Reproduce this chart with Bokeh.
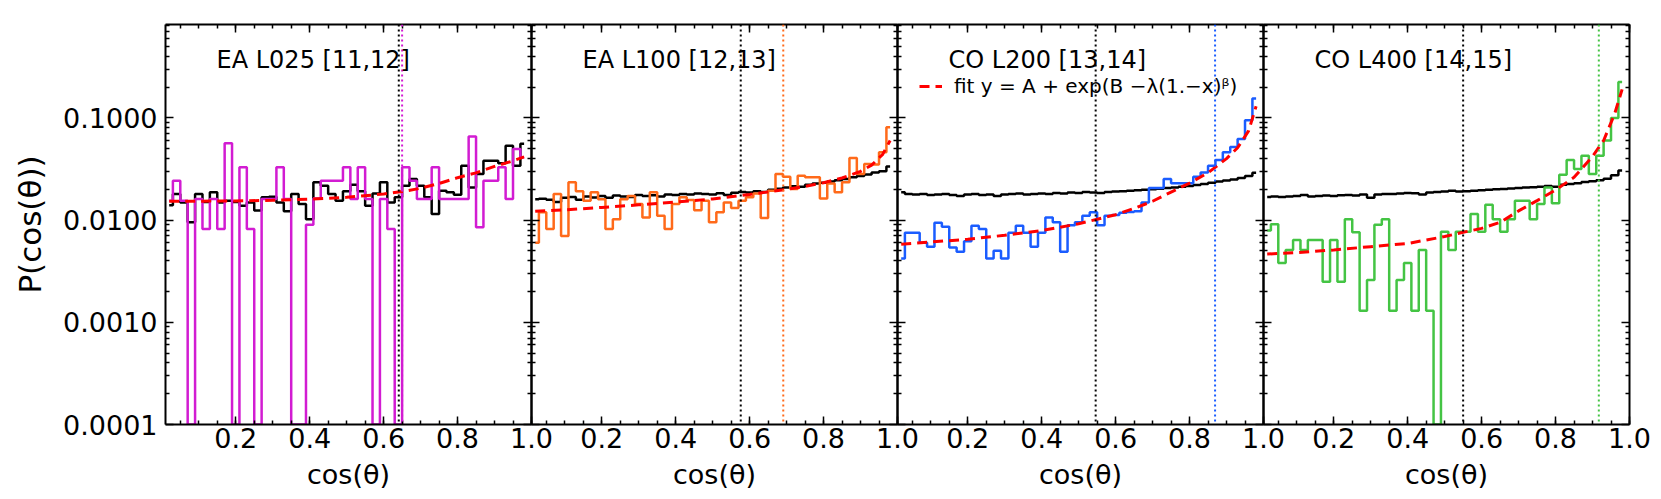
import numpy as np
from bokeh.plotting import figure
from bokeh.layouts import row
from bokeh.models import (Range1d, LinearAxis, LogAxis, FixedTicker, CustomJSTickFormatter,
                          Span, Label, Legend, LegendItem)
from bokeh.embed import file_html
from bokeh.resources import INLINE

# ---------------- data ----------------
X_CENTERS = [round(0.02 * k, 2) for k in range(1, 50)]

P1_REF = [0.0140, 0.0180, 0.0149, 0.0095, 0.0180, 0.0150, 0.0187, 0.0149, 0.0155, 0.0150,
          0.0138, 0.0149, 0.0124, 0.0167, 0.0169, 0.0149, 0.0122, 0.0180, 0.0144, 0.0102,
          0.0234, 0.0217, 0.0180, 0.0155, 0.0191, 0.0222, 0.0191, 0.0138, 0.0182, 0.0234,
          0.0149, 0.0167, 0.0217, 0.0252, 0.0217, 0.0167, 0.0115, 0.0194, 0.0187, 0.0177,
          0.0340, 0.0209, 0.0283, 0.0380, 0.0380, 0.0360, 0.0535, 0.0340, 0.0560]
P1_SEL = [0.0155, 0.0243, 0.0155, 0.0, 0.0161, 0.0082, 0.0161, 0.0082, 0.0564, 0.0,
          0.0328, 0.0082, 0.0, 0.0161, 0.0161, 0.0328, 0.0161, 0.0, 0.0, 0.0090,
          0.0163, 0.0243, 0.0243, 0.0243, 0.0328, 0.0161, 0.0328, 0.0161, 0.0, 0.0161,
          0.0082, 0.0, 0.0328, 0.0243, 0.0161, 0.0161, 0.0328, 0.0161, 0.0161, 0.0161,
          0.0161, 0.0656, 0.0085, 0.0243, 0.0243, 0.0328, 0.0161, 0.0497, 0.0411]
P1_FIT_X = [0.02, 0.1, 0.2, 0.3, 0.4, 0.5, 0.6, 0.65, 0.7, 0.75, 0.8, 0.85, 0.9, 0.95, 0.98]
P1_FIT_Y = [0.0153, 0.0153, 0.0154, 0.0156, 0.0160, 0.0167, 0.0180, 0.0190, 0.0205, 0.0228,
            0.0260, 0.0290, 0.0335, 0.0380, 0.0415]

P2_REF = [0.0160, 0.0162, 0.0158, 0.0150, 0.0165, 0.0168, 0.0158, 0.0170, 0.0166, 0.0172,
          0.0165, 0.0174, 0.0170, 0.0168, 0.0176, 0.0172, 0.0175, 0.0170, 0.0178, 0.0176,
          0.0180, 0.0178, 0.0182, 0.0180, 0.0178, 0.0183, 0.0176, 0.0185, 0.0188, 0.0186,
          0.0192, 0.0188, 0.0198, 0.0203, 0.0208, 0.0214, 0.0212, 0.0222, 0.0228, 0.0232,
          0.0238, 0.0246, 0.0252, 0.0262, 0.0270, 0.0280, 0.0292, 0.0300, 0.0335]
P2_SEL = [0.0060, 0.0119, 0.0082, 0.0180, 0.0070, 0.0234, 0.0191, 0.0155, 0.0187, 0.0160,
          0.0082, 0.0102, 0.0160, 0.0172, 0.0144, 0.0106, 0.0187, 0.0110, 0.0082, 0.0144,
          0.0167, 0.0157, 0.0125, 0.0155, 0.0095, 0.0119, 0.0149, 0.0131, 0.0155, 0.0167,
          0.0182, 0.0105, 0.0194, 0.0283, 0.0266, 0.0201, 0.0272, 0.0262, 0.0262, 0.0163,
          0.0228, 0.0187, 0.0234, 0.0406, 0.0283, 0.0354, 0.0350, 0.0460, 0.0810]
P2_FIT_X = [0.02, 0.1, 0.2, 0.3, 0.4, 0.5, 0.6, 0.7, 0.75, 0.8, 0.85, 0.9, 0.93, 0.96, 0.98]
P2_FIT_Y = [0.0122, 0.0126, 0.0133, 0.0141, 0.0150, 0.0161, 0.0178, 0.0200, 0.0214, 0.0232,
            0.0258, 0.0300, 0.0345, 0.0440, 0.0600]

P3_REF = [0.0187, 0.0180, 0.0178, 0.0180, 0.0176, 0.0178, 0.0180, 0.0176, 0.0172, 0.0178,
          0.0180, 0.0176, 0.0178, 0.0172, 0.0178, 0.0180, 0.0182, 0.0178, 0.0180, 0.0182,
          0.0180, 0.0184, 0.0182, 0.0186, 0.0184, 0.0188, 0.0186, 0.0184, 0.0188, 0.0190,
          0.0192, 0.0194, 0.0196, 0.0198, 0.0200, 0.0203, 0.0206, 0.0208, 0.0212, 0.0216,
          0.0220, 0.0226, 0.0232, 0.0238, 0.0244, 0.0250, 0.0258, 0.0270, 0.0290]
P3_SEL = [0.0042, 0.0075, 0.0075, 0.0060, 0.0055, 0.0094, 0.0086, 0.0054, 0.0049, 0.0062,
          0.0088, 0.0082, 0.0042, 0.0050, 0.0042, 0.0075, 0.0088, 0.0075, 0.0055, 0.0075,
          0.0106, 0.0095, 0.0049, 0.0089, 0.0095, 0.0110, 0.0119, 0.0089, 0.0110, 0.0112,
          0.0118, 0.0120, 0.0122, 0.0149, 0.0206, 0.0206, 0.0252, 0.0229, 0.0229, 0.0229,
          0.0265, 0.0293, 0.0340, 0.0388, 0.0460, 0.0520, 0.0620, 0.0950, 0.1550]
P3_FIT_X = [0.02, 0.1, 0.2, 0.3, 0.4, 0.5, 0.6, 0.65, 0.7, 0.75, 0.8, 0.85, 0.9, 0.93, 0.96, 0.98]
P3_FIT_Y = [0.0058, 0.0061, 0.0065, 0.0071, 0.0079, 0.0092, 0.0113, 0.0130, 0.0153, 0.0188,
            0.0230, 0.0290, 0.0400, 0.0510, 0.0750, 0.1300]

P4_REF = [0.0168, 0.0170, 0.0168, 0.0170, 0.0172, 0.0176, 0.0170, 0.0172, 0.0174, 0.0172,
          0.0175, 0.0176, 0.0174, 0.0178, 0.0165, 0.0178, 0.0180, 0.0180, 0.0182, 0.0184,
          0.0183, 0.0178, 0.0186, 0.0188, 0.0190, 0.0194, 0.0190, 0.0192, 0.0194, 0.0196,
          0.0198, 0.0200, 0.0202, 0.0204, 0.0206, 0.0208, 0.0210, 0.0212, 0.0215, 0.0212,
          0.0222, 0.0226, 0.0230, 0.0236, 0.0240, 0.0246, 0.0254, 0.0275, 0.0305]
P4_SEL = [0.0079, 0.0091, 0.0038, 0.0051, 0.0064, 0.0051, 0.0064, 0.0064, 0.0025, 0.0064,
          0.0025, 0.0102, 0.0076, 0.0013, 0.0026, 0.0090, 0.0102, 0.0013, 0.0026, 0.0038,
          0.0013, 0.0051, 0.0013, 0.0, 0.0077, 0.0051, 0.0077, 0.0077, 0.0115, 0.0077,
          0.0141, 0.0102, 0.0077, 0.0102, 0.0155, 0.0155, 0.0102, 0.0144, 0.0209, 0.0146,
          0.0278, 0.0388, 0.0316, 0.0427, 0.0283, 0.0427, 0.0600, 0.1000, 0.2240]
P4_FIT_X = [0.02, 0.1, 0.2, 0.3, 0.4, 0.5, 0.55, 0.6, 0.65, 0.7, 0.75, 0.8, 0.85, 0.9, 0.93, 0.96, 0.98]
P4_FIT_Y = [0.00465, 0.0048, 0.0051, 0.0055, 0.0059, 0.0069, 0.0076, 0.0083, 0.0095, 0.0123,
            0.0155, 0.0197, 0.0262, 0.0420, 0.0600, 0.1100, 0.1900]

PANEL_TITLES = ["EA L025 [11,12]", "EA L100 [12,13]", "CO L200 [13,14]", "CO L400 [14,15]"]
SEL_COLORS = ["#d21cd2", "#ff6a1a", "#1a5cff", "#44c444"]
REF_VLINE = [0.641, 0.576, 0.546, 0.550]
SEL_VLINE = [0.650, 0.691, 0.869, 0.917]
FIT_LABEL = "fit y = A + exp(B \u2212\u03bb(1.\u2212x)\u1d5d)"

REFS = [P1_REF, P2_REF, P3_REF, P4_REF]
SELS = [P1_SEL, P2_SEL, P3_SEL, P4_SEL]
FITX = [P1_FIT_X, P2_FIT_X, P3_FIT_X, P4_FIT_X]
FITY = [P1_FIT_Y, P2_FIT_Y, P3_FIT_Y, P4_FIT_Y]

X_TICKS = [0.2, 0.4, 0.6, 0.8, 1.0]
Y_TICKS = [1e-4, 1e-3, 1e-2, 1e-1]

# ---------------- layout constants ----------------
Y_MIN, Y_MAX = 1e-4, 0.82
X_MIN, X_MAX = 0.01, 1.0
FONT = "DejaVu Sans"
FRAME_W = 366
SIDE = 24
LEFT_W = 165
H = 499


def style_axis(ax, labels):
    ax.axis_line_width = 2
    ax.axis_line_color = "black"
    ax.major_tick_in = 8
    ax.major_tick_out = 0
    ax.minor_tick_in = 4
    ax.minor_tick_out = 0
    ax.major_tick_line_width = 1.5
    ax.minor_tick_line_width = 1.5
    ax.major_tick_line_color = "black"
    ax.minor_tick_line_color = "black"
    ax.major_label_text_font = FONT
    ax.major_label_text_color = "black"
    if not labels:
        ax.major_label_text_font_size = "0px"
        ax.major_label_standoff = 0
        ax.formatter = CustomJSTickFormatter(code="return '';")


def make_panel(i):
    left = LEFT_W if i == 0 else SIDE
    p = figure(width=left + FRAME_W + SIDE, height=H,
               x_range=Range1d(X_MIN, X_MAX), y_range=Range1d(Y_MIN, Y_MAX),
               y_axis_type="log", x_axis_location=None, y_axis_location=None,
               toolbar_location=None, output_backend="svg",
               min_border_left=left, min_border_right=SIDE,
               min_border_top=24, min_border_bottom=75)
    p.outline_line_color = None
    p.border_fill_color = None
    p.background_fill_color = None
    p.xgrid.grid_line_color = None
    p.ygrid.grid_line_color = None
    p.grid.visible = False
    if i > 0:
        p.margin = (0, 0, 0, -2 * SIDE)

    xticker = FixedTicker(ticks=X_TICKS, minor_ticks=[round(0.05 * k, 2) for k in range(1, 21)])
    yticker = FixedTicker(ticks=Y_TICKS,
                          minor_ticks=[m * 10.0 ** e for e in range(-4, 0) for m in range(2, 10)])

    xb = LinearAxis(ticker=xticker, formatter=CustomJSTickFormatter(code="return tick.toFixed(1);"),
                    axis_label="cos(\u03b8)")
    style_axis(xb, True)
    xb.major_label_text_font_size = "27px"
    xb.major_label_standoff = 3
    xb.axis_label_text_font = FONT
    xb.axis_label_text_font_size = "27px"
    xb.axis_label_text_font_style = "normal"
    xb.axis_label_text_color = "black"
    xb.axis_label_standoff = 8
    p.add_layout(xb, "below")

    xt = LinearAxis(ticker=xticker)
    style_axis(xt, False)
    p.add_layout(xt, "above")

    if i == 0:
        yl = LogAxis(ticker=yticker, formatter=CustomJSTickFormatter(code="return tick.toFixed(4);"),
                     axis_label="P(cos(\u03b8))")
        style_axis(yl, True)
        yl.major_label_text_font_size = "27px"
        yl.major_label_standoff = 8
        yl.axis_label_text_font = FONT
        yl.axis_label_text_font_size = "31px"
        yl.axis_label_text_font_style = "normal"
        yl.axis_label_text_color = "black"
        yl.axis_label_standoff = 12
    else:
        yl = LogAxis(ticker=yticker)
        style_axis(yl, False)
    p.add_layout(yl, "left")

    yr = LogAxis(ticker=yticker)
    style_axis(yr, False)
    p.add_layout(yr, "right")

    p.step(X_CENTERS, np.maximum(REFS[i], Y_MIN), mode="center", line_color="black", line_width=2.5)
    p.step(X_CENTERS, np.maximum(SELS[i], Y_MIN), mode="center", line_color=SEL_COLORS[i], line_width=2.5)
    fit = p.line(FITX[i], FITY[i], line_color="#ff0000", line_width=3, line_dash="10 6")

    p.add_layout(Span(location=REF_VLINE[i], dimension="height", line_color="black",
                      line_dash="2 3", line_width=2))
    p.add_layout(Span(location=SEL_VLINE[i], dimension="height", line_color=SEL_COLORS[i],
                      line_dash="2 3", line_width=2))

    p.add_layout(Label(x=0.148, y=0.37, text=PANEL_TITLES[i], text_font=FONT,
                       text_font_size="24px", text_baseline="middle", text_align="left",
                       text_color="black"))

    if i == 2:
        leg = Legend(items=[LegendItem(label=FIT_LABEL, renderers=[fit])], location=(22, 326),
                     border_line_color=None, background_fill_alpha=0, label_text_font=FONT,
                     label_text_font_size="20px", label_text_color="black",
                     glyph_width=23, label_standoff=12, padding=0, margin=0, spacing=0)
        p.add_layout(leg)
    return p


panels = [make_panel(i) for i in range(4)]
layout = row(*panels)
open("out.html", "w").write(file_html(layout, INLINE))
